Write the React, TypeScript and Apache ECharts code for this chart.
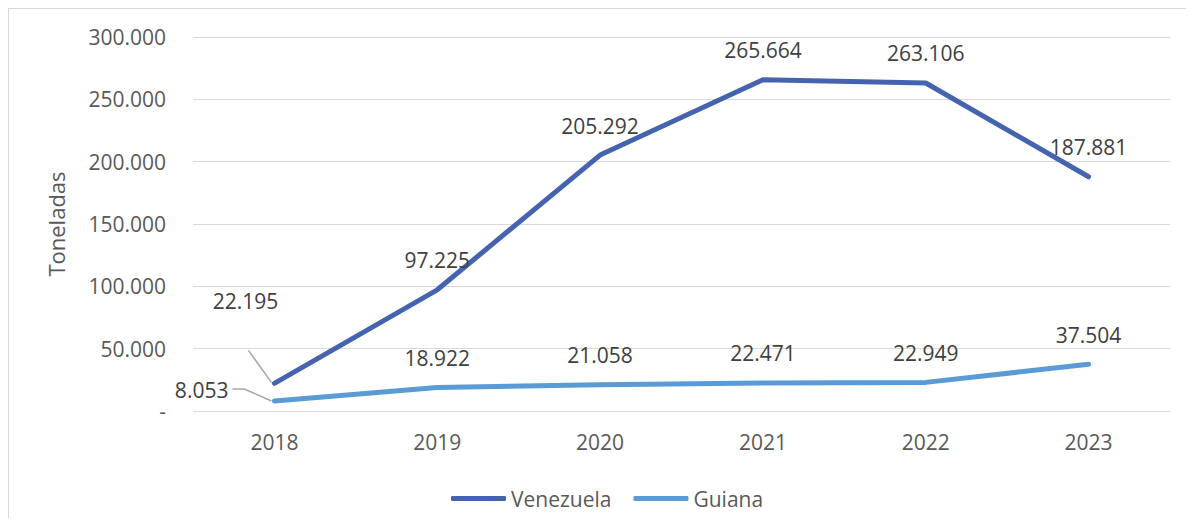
import React, { useEffect, useRef } from "react";
import * as echarts from "echarts";

const years = ["2018", "2019", "2020", "2021", "2022", "2023"];
const venezuela = [22195, 97225, 205292, 265664, 263106, 187881];
const guiana = [8053, 18922, 21058, 22471, 22949, 37504];
const seriesNames = ["Venezuela", "Guiana"];
const yTicks = { min: 0, max: 300000, interval: 50000 };

const FONT = "'Open Sans', sans-serif";
const FS = 21;
const fmt = (v: number) =>
  v === 0 ? "-" : String(v).replace(/\B(?=(\d{3})+(?!\d))/g, ".");

export default function App() {
  const ref = useRef<HTMLDivElement>(null);
  useEffect(() => {
    if (!ref.current) return;
    const chart = echarts.init(ref.current, undefined, { renderer: "svg" });
    const baseLabel = {
      show: true,
      position: "top",
      distance: 18,
      fontFamily: FONT,
      fontSize: FS,
      color: "#404040",
      formatter: (p: any) => fmt(p.value),
    };
    const vData = venezuela.map((v, i) =>
      i === 0
        ? { value: v, label: { ...baseLabel, offset: [-29, -53] } }
        : { value: v }
    );
    const gData = guiana.map((v, i) =>
      i === 0
        ? {
            value: v,
            label: {
              ...baseLabel,
              position: "left",
              distance: 45,
              offset: [0, -11],
            },
          }
        : { value: v }
    );
    chart.setOption({
      animation: false,
      textStyle: { fontFamily: FONT },
      grid: { left: 184, right: 24, top: 28, bottom: 107 },
      legend: {
        left: 437,
        top: 474,
        itemWidth: 55,
        itemHeight: 5,
        itemGap: 22,
        icon: "roundRect",
        textStyle: { fontFamily: FONT, fontSize: FS, color: "#595959" },
        data: seriesNames,
      },
      xAxis: {
        type: "category",
        data: years,
        boundaryGap: true,
        axisLine: { show: false },
        axisTick: { show: false },
        axisLabel: {
          margin: 20,
          fontFamily: FONT,
          fontSize: FS,
          color: "#595959",
        },
      },
      yAxis: {
        type: "value",
        min: yTicks.min,
        max: yTicks.max,
        interval: yTicks.interval,
        name: "Toneladas",
        nameLocation: "middle",
        nameGap: 126,
        nameTextStyle: { fontFamily: FONT, fontSize: 22, color: "#595959" },
        axisLine: { show: false },
        axisTick: { show: false },
        splitLine: { lineStyle: { color: "#d9d9d9", width: 1 } },
        axisLabel: {
          margin: 27,
          fontFamily: FONT,
          fontSize: FS,
          color: "#595959",
          formatter: (v: number) => fmt(v),
        },
      },
      series: [
        {
          name: seriesNames[0],
          type: "line",
          data: vData,
          symbol: "circle",
          symbolSize: 2,
          color: "#4563AF",
          lineStyle: { width: 5, color: "#4563AF", cap: "round", join: "round" },
          label: baseLabel,
          z: 3,
        },
        {
          name: seriesNames[1],
          type: "line",
          data: gData,
          symbol: "circle",
          symbolSize: 2,
          color: "#5B9BD5",
          lineStyle: { width: 5, color: "#5B9BD5", cap: "round", join: "round" },
          label: baseLabel,
          z: 2,
        },
      ],
    });
    // leader lines for the first-year labels, anchored at the data points
    const pv = chart.convertToPixel({ gridIndex: 0 }, [0, venezuela[0]]) as number[];
    const pg = chart.convertToPixel({ gridIndex: 0 }, [0, guiana[0]]) as number[];
    const rel = (p: number[], offs: number[][]) =>
      offs.map(([dx, dy]) => [p[0] + dx, p[1] + dy]);
    const leaderStyle = { stroke: "#a6a6a6", lineWidth: 1.5, fill: null };
    chart.setOption({
      graphic: [
        {
          type: "polyline",
          shape: { points: rel(pv, [[-26, -33], [-3, -1]]) },
          style: leaderStyle,
          z: 1,
        },
        {
          type: "polyline",
          shape: { points: rel(pg, [[-42, -12], [-30, -12], [-3, 0]]) },
          style: leaderStyle,
          z: 1,
        },
      ],
    });
    return () => chart.dispose();
  }, []);
  return (
    <div
      ref={ref}
      style={{
        width: 1186,
        height: 510,
        boxSizing: "border-box",
        borderTop: "1px solid #d9d9d9",
        borderLeft: "1px solid #d9d9d9",
      }}
    />
  );
}
